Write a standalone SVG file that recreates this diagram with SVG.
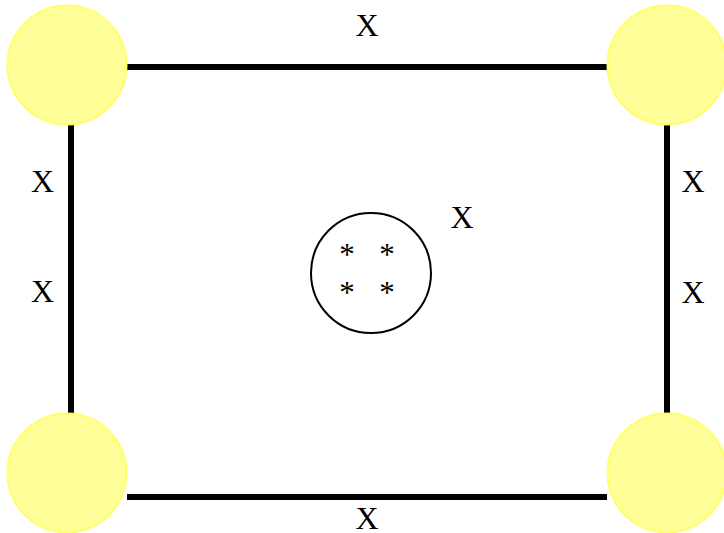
<svg xmlns="http://www.w3.org/2000/svg" width="724" height="533" viewBox="0 0 724 533">
<style>
.node{fill:#ffff99;stroke:#ffff66;stroke-width:2}
.edge{stroke:#000;stroke-width:6;fill:none}
.lbl{font-family:"Liberation Serif","Times New Roman",serif;font-size:32px;fill:#000;text-anchor:middle}
.ast{font-family:"Liberation Serif","Times New Roman",serif;font-size:31px;fill:#000;text-anchor:middle}
</style>
<rect width="724" height="533" fill="#fff"/>
<g id="connectors">
<line class="edge" x1="127" y1="67" x2="607" y2="67"/>
<line class="edge" x1="127" y1="497" x2="607" y2="497"/>
<line class="edge" x1="71" y1="125" x2="71" y2="413"/>
<line class="edge" x1="667" y1="125" x2="667" y2="413"/>
</g>
<g id="node-tl"><circle class="node" cx="67" cy="65" r="59.5"/></g>
<g id="node-tr"><circle class="node" cx="667" cy="65" r="59.5"/></g>
<g id="node-bl"><circle class="node" cx="67" cy="473" r="59.5"/></g>
<g id="node-br"><circle class="node" cx="667" cy="473" r="59.5"/></g>
<g id="center">
<circle cx="371" cy="273" r="60" fill="none" stroke="#000" stroke-width="2"/>
<text class="ast" x="347" y="265">*</text>
<text class="ast" x="387" y="265">*</text>
<text class="ast" x="347" y="303">*</text>
<text class="ast" x="387" y="303">*</text>
</g>
<g id="labels">
<text class="lbl" x="367" y="36">X</text>
<text class="lbl" x="367" y="529">X</text>
<text class="lbl" x="42.5" y="192">X</text>
<text class="lbl" x="42.5" y="302">X</text>
<text class="lbl" x="693" y="192">X</text>
<text class="lbl" x="693" y="303">X</text>
<text class="lbl" x="462" y="228">X</text>
</g>
</svg>
